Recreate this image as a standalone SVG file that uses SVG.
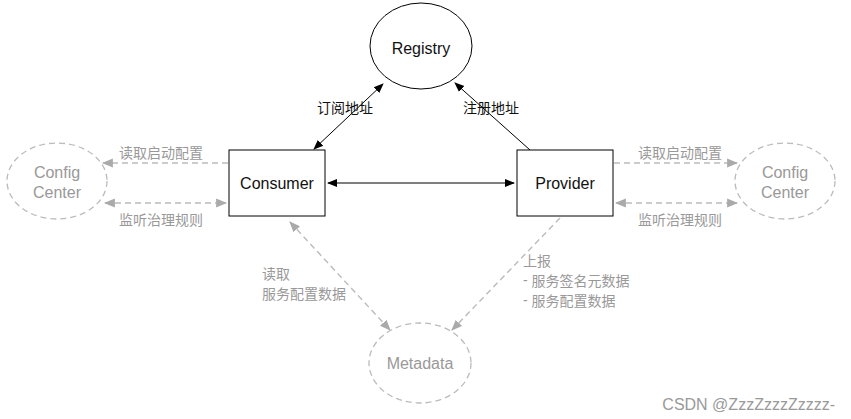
<svg xmlns="http://www.w3.org/2000/svg" width="851" height="419" viewBox="0 0 851 419">
<style>
.n{fill:#fff;stroke:#000;stroke-width:1}
.d{fill:#fff;stroke:#bbb;stroke-width:1.3;stroke-dasharray:6,4}
.t{font-family:"Liberation Sans",Arial,sans-serif;font-size:16px;text-anchor:middle;dominant-baseline:central;fill:#111}
.c{font-family:"Noto Sans CJK SC","Liberation Sans",sans-serif;font-size:14px;dominant-baseline:central;fill:#111}
.g{fill:#999}
.s{stroke:#000;stroke-width:1;fill:none}
.ds{stroke:#bbb;stroke-width:1.4;fill:none;stroke-dasharray:6,4}
.b{font-family:"Liberation Sans",Arial,sans-serif}
</style>
<defs>
<marker id="a" viewBox="0 0 10 10" refX="9" refY="5" markerWidth="10" markerHeight="10" markerUnits="userSpaceOnUse" orient="auto-start-reverse"><path d="M0,1 L10,5 L0,9 z" fill="#000"/></marker>
<marker id="ag" viewBox="0 0 10 10" refX="9" refY="5" markerWidth="11" markerHeight="11" markerUnits="userSpaceOnUse" orient="auto-start-reverse"><path d="M0,1 L10,5 L0,9 z" fill="#aaa"/></marker>
</defs>
<rect width="851" height="419" fill="#fff"/>
<g id="connectors">
<line class="s" x1="314" y1="149" x2="383" y2="84" marker-start="url(#a)" marker-end="url(#a)"/>
<line class="s" x1="530" y1="150" x2="455" y2="83" marker-end="url(#a)"/>
<line class="s" x1="328" y1="183" x2="514" y2="183" marker-start="url(#a)" marker-end="url(#a)"/>
<line class="ds" x1="228" y1="163" x2="103" y2="163" marker-end="url(#ag)"/>
<line class="ds" x1="105" y1="203" x2="226" y2="203" marker-start="url(#ag)" marker-end="url(#ag)"/>
<line class="ds" x1="614" y1="163" x2="737" y2="163" marker-end="url(#ag)"/>
<line class="ds" x1="616" y1="203" x2="737" y2="203" marker-start="url(#ag)" marker-end="url(#ag)"/>
<line class="ds" x1="290" y1="222" x2="390" y2="330" marker-start="url(#ag)" marker-end="url(#ag)"/>
<line class="ds" x1="560" y1="218" x2="452" y2="330" marker-end="url(#ag)"/>
</g>
<g id="registry"><ellipse class="n" cx="421" cy="46" rx="51" ry="43"/><text class="t" x="421" y="48">Registry</text></g>
<g id="consumer"><rect class="n" x="229" y="150" width="96" height="66"/><text class="t" x="277" y="183">Consumer</text></g>
<g id="provider"><rect class="n" x="517" y="150" width="96" height="66"/><text class="t" x="565" y="183">Provider</text></g>
<g id="config-left"><ellipse class="d" cx="57" cy="181" rx="50" ry="38"/><text class="t g" x="57" y="172">Config</text><text class="t g" x="57" y="192">Center</text></g>
<g id="config-right"><ellipse class="d" cx="785" cy="181" rx="50" ry="38"/><text class="t g" x="785" y="172">Config</text><text class="t g" x="785" y="192">Center</text></g>
<g id="metadata"><ellipse class="d" cx="420" cy="363" rx="51" ry="40"/><text class="t g" x="420" y="363">Metadata</text></g>
<g id="labels">
<text class="c" x="317" y="107">订阅地址</text>
<text class="c" x="463" y="107">注册地址</text>
<text class="c g" x="119" y="152">读取启动配置</text>
<text class="c g" x="119" y="219">监听治理规则</text>
<text class="c g" x="638" y="152">读取启动配置</text>
<text class="c g" x="638" y="219">监听治理规则</text>
<text class="c g" x="262" y="273">读取</text>
<text class="c g" x="262" y="293">服务配置数据</text>
<text class="c g" x="523" y="260">上报</text>
<text class="c g" x="523" y="280"><tspan class="b">- </tspan>服务签名元数据</text>
<text class="c g" x="523" y="300"><tspan class="b">- </tspan>服务配置数据</text>
</g>
<text x="835" y="404" text-anchor="end" dominant-baseline="central" font-family="Liberation Sans,Arial,sans-serif" font-size="16" fill="#999">CSDN @ZzzZzzzZzzzz-</text>
</svg>
